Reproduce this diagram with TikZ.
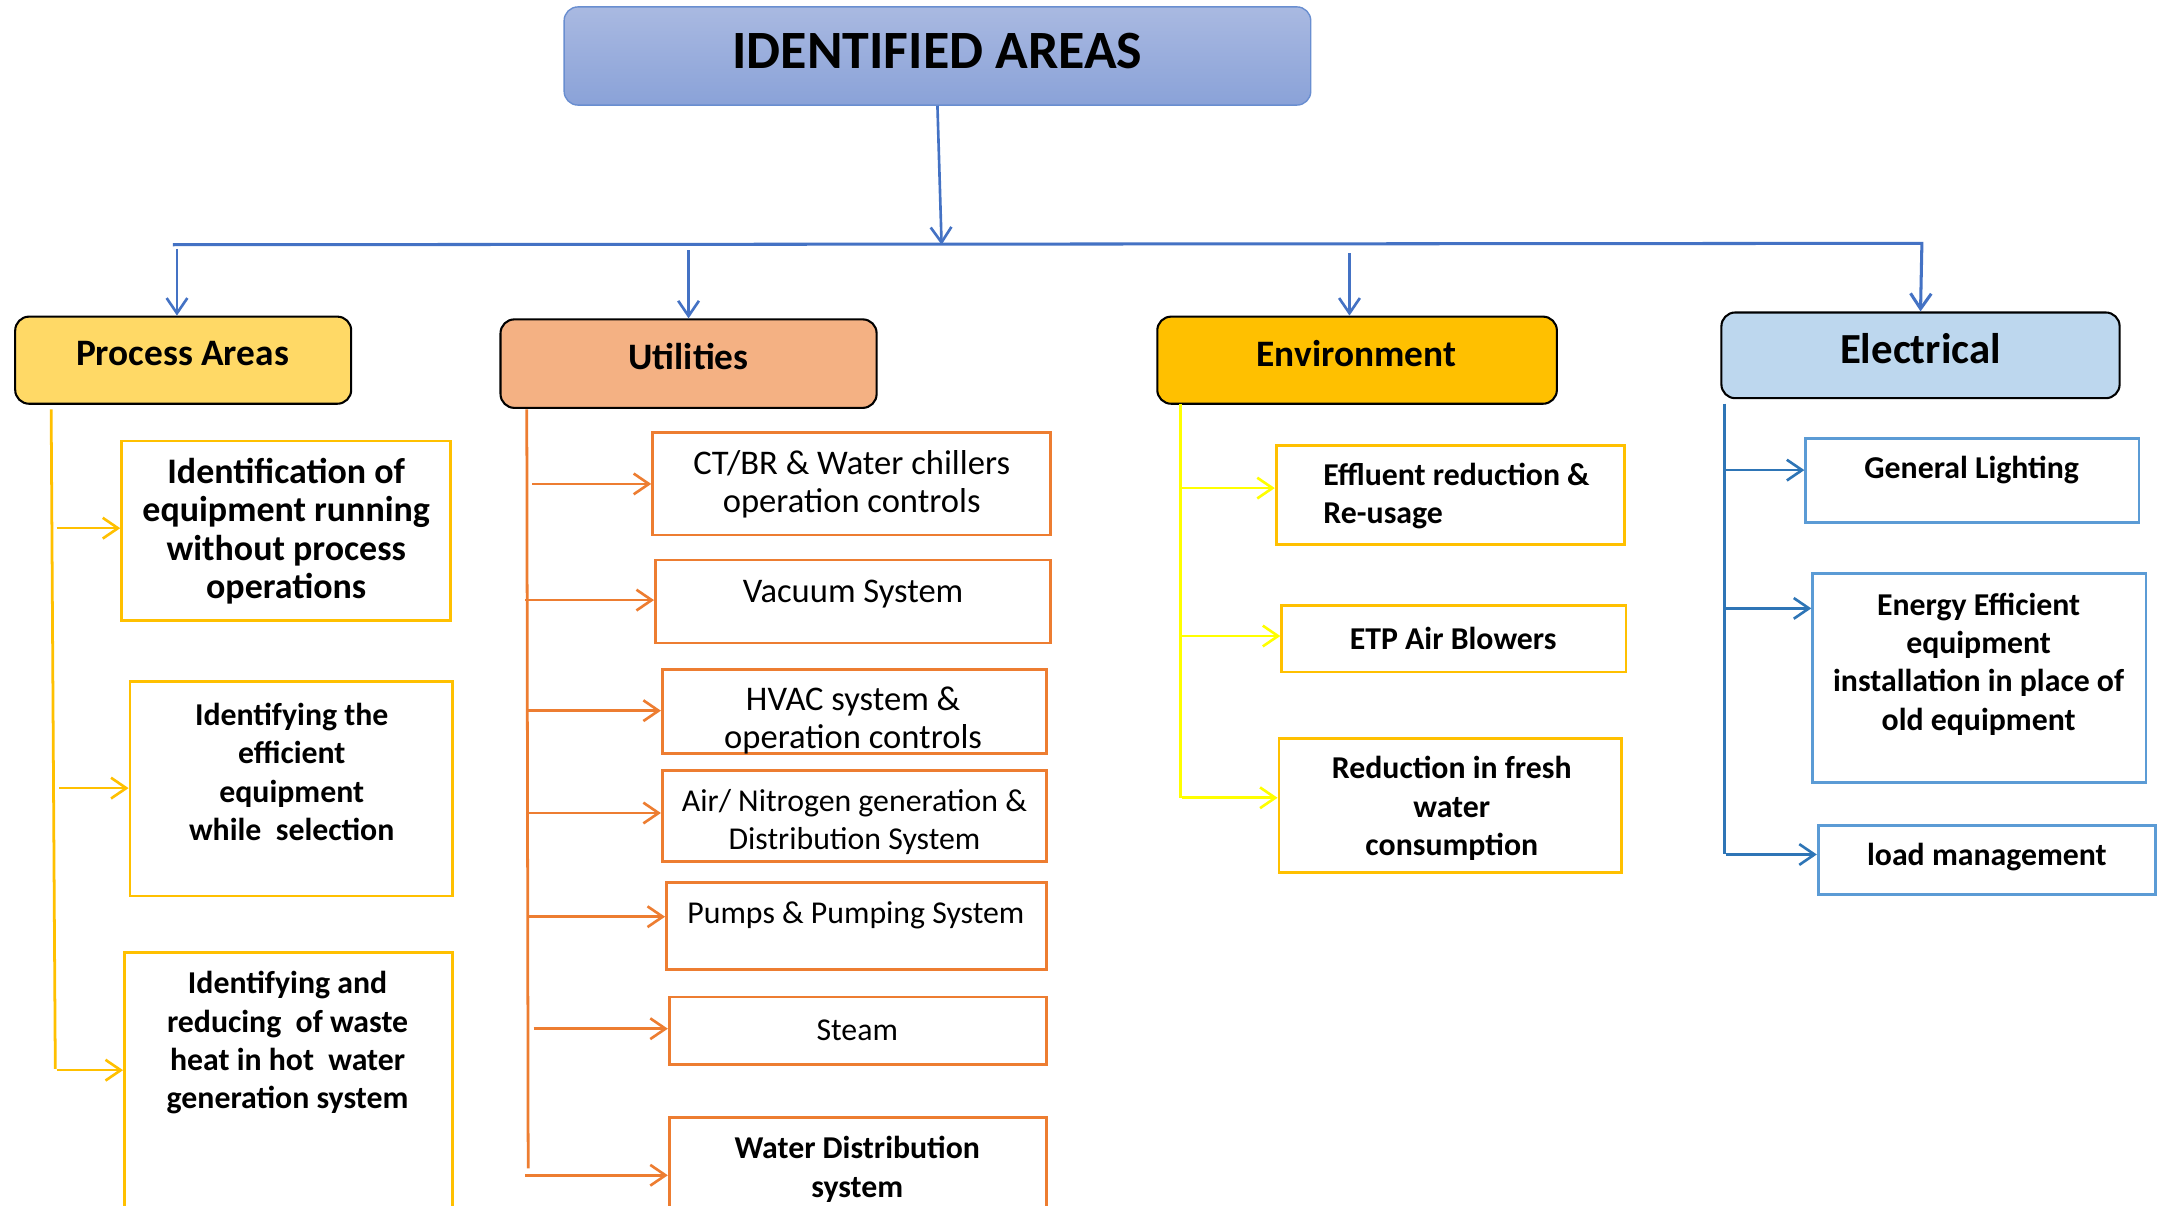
\documentclass[tikz,border=0pt]{standalone}
\usepackage{fontspec}
\setmainfont{Carlito}
\usetikzlibrary{arrows.meta}
\definecolor{tblue}{HTML}{4472C4}
\definecolor{gold}{HTML}{FFC000}
\definecolor{pafill}{HTML}{FFD966}
\definecolor{utfill}{HTML}{F4B183}
\definecolor{orng}{HTML}{ED7D31}
\definecolor{yel}{HTML}{FFFF00}
\definecolor{elfill}{HTML}{BDD7EE}
\definecolor{eline}{HTML}{2E75B6}
\definecolor{eborder}{HTML}{5B9BD5}
\definecolor{ttop}{HTML}{A9B9E1}
\definecolor{tbot}{HTML}{8AA2D8}
\newcommand\fsz[2]{\fontsize{#1}{#2}\selectfont}
\newcommand\mkbox[6]{\node[#6, minimum width={(#4)-(#2)}, minimum height={(#5)-(#3)}] (#1) at ({((#2)+(#4))/2},{((#3)+(#5)))/2}) {};}
\begin{document}
\begin{tikzpicture}[x=1pt,y=-1pt,
  arr/.style={-{Straight Barb[length=11pt,width=15pt]}, line width=1.9pt},
  headbox/.style={draw=black, line width=1.5pt, rounded corners=10pt, inner sep=0pt},
  subbox/.style={draw, line width=2pt, fill=white, inner sep=0pt},
  txt/.style={inner sep=0pt, align=center, text=black, yshift=-1.8pt},
  bt/.style={txt, font=\bfseries\fsz{23}{27.7}},
  rt/.style={txt, font=\fsz{25}{27.5}},
  ht/.style={inner sep=0pt, align=center, text=black, font=\bfseries\fsz{27}{30}}]
\clip (0,0) rectangle (1568,872);
\fill[white] (0,0) rectangle (1568,872);

% title
\mkbox{title}{408}{5}{948}{76}{draw=tblue!80, line width=1pt, rounded corners=10pt, top color=ttop, bottom color=tbot, inner sep=0pt}
\node[ht, font=\bfseries\fsz{39}{42}] (titletxt) at (678,37) {IDENTIFIED AREAS};

% level-1 boxes
\mkbox{pa}{11}{229}{254}{292}{headbox, fill=pafill}
\node[ht] (patxt) at (132,256) {Process Areas};
\mkbox{ut}{362}{231}{634}{295}{headbox, fill=utfill}
\node[ht] (uttxt) at (498,258) {Utilities};
\mkbox{en}{837}{229}{1126}{292}{headbox, fill=gold}
\node[ht] (entxt) at (981,256) {Environment};
\mkbox{el}{1245}{226}{1533}{288}{headbox, fill=elfill}
\node[ht, font=\bfseries\fsz{31}{34}] (eltxt) at (1389,252) {Electrical};

% distribution
\coordinate (hubL) at (125,177);
\coordinate (hubM) at (681,177);
\coordinate (hubR) at (1390,176);
\draw[tblue, arr] (title.south) -- (hubM);
\draw[tblue, arr, line width=2.2pt] (hubL) -- (hubR) -- (el.north);
\coordinate (bpa) at (128,180);
\coordinate (but) at (498,181);
\coordinate (ben) at (976,183);
\draw[tblue, arr] (bpa) -- (bpa |- pa.north);
\draw[tblue, arr] (but) -- (but |- ut.north);
\draw[tblue, arr] (ben) -- (ben |- en.north);

% ---------- Process Areas ----------
\mkbox{pa1}{88}{319}{326}{449}{subbox, draw=gold}
\node[txt, font=\bfseries\fsz{26}{27.8}] (pa1t) at (207,382.5) {Identification of\\equipment running\\without process\\operations};
\mkbox{pa2}{94}{493}{327}{648}{subbox, draw=gold}
\node[bt] (pa2t) at (211,556.5) {Identifying the\\efficient\\equipment\\while\ \ selection};
\mkbox{pa3}{90}{689}{327}{900}{subbox, draw=gold}
\node[bt] (pa3t) at (208,752.5) {Identifying and\\reducing\ \ of waste\\heat in hot\ \ water\\generation system};
\coordinate (paT) at (37,296);
\coordinate (paB) at (40,773);
\draw[gold, line width=2pt] (paT) -- (paB);
\coordinate (pa1a) at (41,382);
\coordinate (pa2a) at (43,570);
\coordinate (pa3a) at (41,774);
\draw[gold, arr] (pa1a) -- (pa1a -| pa1.west);
\draw[gold, arr] (pa2a) -- (pa2a -| pa2.west);
\draw[gold, arr] (pa3a) -- (pa3a -| pa3.west);

% ---------- Utilities ----------
\mkbox{ut1}{472}{313}{760}{387}{subbox, draw=orng}
\node[rt] (ut1t) at (616,348.5) {CT/BR \& Water chillers\\operation controls};
\mkbox{ut2}{474}{405}{760}{465}{subbox, draw=orng}
\node[rt] (ut2t) at (617,428) {Vacuum System};
\mkbox{ut3}{479}{484}{757}{545}{subbox, draw=orng}
\node[rt] (ut3t) at (617,519) {HVAC system \&\\operation controls};
\mkbox{ut4}{479}{557}{757}{623}{subbox, draw=orng}
\node[txt, font=\fsz{23}{27.5}] (ut4t) at (618,592.5) {Air/ Nitrogen generation \&\\Distribution System};
\mkbox{ut5}{482}{638}{757}{701}{subbox, draw=orng}
\node[txt, font=\fsz{23}{27.5}] (ut5t) at (619,660) {Pumps \& Pumping System};
\mkbox{ut6}{484}{721}{757}{770}{subbox, draw=orng}
\node[txt, font=\fsz{23}{27.5}] (ut6t) at (620,743) {Steam};
\mkbox{ut7}{484}{808}{757}{900}{subbox, draw=orng}
\node[bt] (ut7t) at (620,844) {Water Distribution\\system};
\coordinate (utT) at (381,296);
\coordinate (utB) at (382,845);
\draw[orng, line width=2pt] (utT) -- (utB);
\coordinate (ut1a) at (385,350);
\coordinate (ut2a) at (380,434);
\coordinate (ut3a) at (382,514);
\coordinate (ut4a) at (382,588);
\coordinate (ut5a) at (382,663);
\coordinate (ut6a) at (386,744);
\coordinate (ut7a) at (380,850);
\foreach \i in {1,...,7}{\draw[orng, arr] (ut\i a) -- (ut\i a -| ut\i.west);}

% ---------- Environment ----------
\mkbox{en1}{923}{322}{1175}{394}{subbox, draw=gold}
\node[bt, align=left, anchor=west] (en1t) at (957,357) {Effluent reduction \&\\Re-usage};
\mkbox{en2}{927}{438}{1176}{486}{subbox, draw=gold}
\node[bt] (en2t) at (1051,460) {ETP Air Blowers};
\mkbox{en3}{925}{534}{1173}{631}{subbox, draw=gold}
\node[bt] (en3t) at (1050,583) {Reduction in fresh\\water\\consumption};
\coordinate (enT) at (854,292);
\coordinate (enB) at (854,577);
\draw[yel, line width=2pt] (enT) -- (enB);
\coordinate (en1a) at (855,353);
\coordinate (en2a) at (855,460);
\coordinate (en3a) at (855,577);
\foreach \i in {1,2,3}{\draw[yel, arr] (en\i a) -- (en\i a -| en\i.west);}

% ---------- Electrical ----------
\mkbox{el1}{1306}{317}{1547}{378}{subbox, draw=eborder}
\node[bt] (el1t) at (1426,338) {General Lighting};
\mkbox{el2}{1311}{415}{1552}{566}{subbox, draw=eborder}
\node[bt] (el2t) at (1431,478.5) {Energy Efficient\\equipment\\installation in place of\\old equipment};
\mkbox{el3}{1315}{597}{1559}{647}{subbox, draw=eborder}
\node[bt] (el3t) at (1437,618) {load management};
\coordinate (elT) at (1247,292);
\coordinate (elB) at (1247,618);
\draw[eline, line width=2pt] (elT) -- (elB);
\coordinate (el1a) at (1248,340);
\coordinate (el2a) at (1248,440);
\coordinate (el3a) at (1248,618);
\foreach \i in {1,2,3}{\draw[eline, arr] (el\i a) -- (el\i a -| el\i.west);}
\end{tikzpicture}
\end{document}
